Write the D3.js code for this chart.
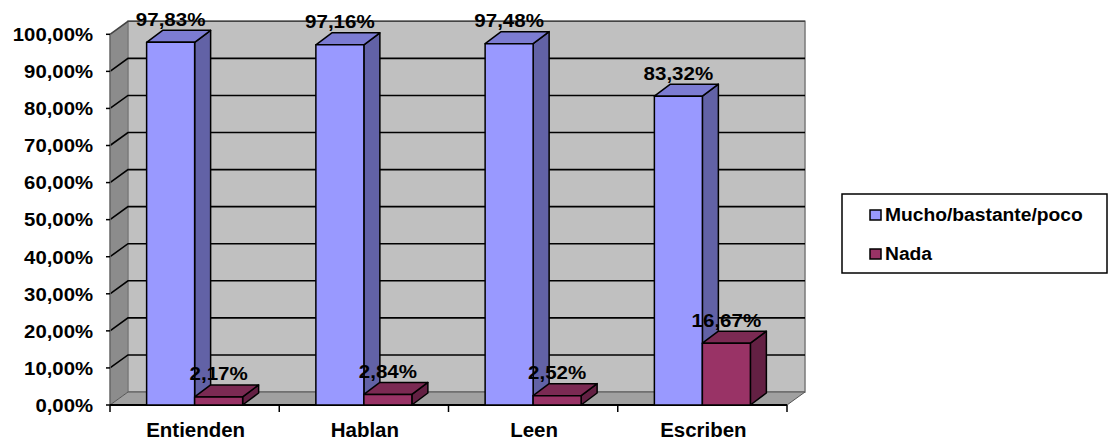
<!DOCTYPE html>
<html>
<head>
<meta charset="utf-8">
<script src="https://cdn.jsdelivr.net/npm/d3@7"></script>
<style>
	body { margin: 0; background: #fff; }
	text { font-family: "Liberation Sans", Arial, sans-serif; font-weight: bold; fill: #000; }
</style>
</head>
<body>
<div id="chart"></div>
<script>
'use strict'

var categories = ["Entienden", "Hablan", "Leen", "Escriben"];
var seriesNames = ["Mucho/bastante/poco", "Nada"];
var mucho = [97.83, 97.16, 97.48, 83.32];
var nada = [2.17, 2.84, 2.52, 16.67];
var yTicks = [0, 10, 20, 30, 40, 50, 60, 70, 80, 90, 100];

var colors = [
	{front: "#9999ff", top: "#7c7cd2", side: "#6262a6"},
	{front: "#993366", top: "#7b2a53", side: "#632043"}
];

var width = 1108, height = 441;
var left = 110, right = 787, floorY = 405;
var wallDx = 18, wallDy = -13;   // profondeur des murs
var barDx = 16, barDy = -12;     // profondeur des barres

var svg = d3.select("#chart")
	.append("svg")
	.attr("width", width)
	.attr("height", height);

var y = d3.scaleLinear().domain([0, 100]).range([floorY, 34.3]);
var x0 = d3.scaleBand().domain(categories).range([left, right]).padding(0);
var x1 = d3.scaleBand().domain([0, 1]).range([0, x0.bandwidth()]).paddingInner(0).paddingOuter(0.763);

function fmt(v){ return v.toFixed(2).replace('.', ',') + '%'; }

// texte legerement etire horizontalement (comme dans Excel)
function stretchText(g, x, yy, txt, size, anchor, sx){
	return g.append("text")
		.attr("transform", "translate(" + x + "," + yy + ") scale(" + sx + ",1)")
		.attr("text-anchor", anchor)
		.style("font-size", size + "px")
		.text(txt);
}

function poly(pts){ return "M" + pts.map(function(p){ return p.join(","); }).join("L") + "Z"; }

var yTop = y(100);

// mur gauche
svg.append("path")
	.attr("d", poly([[left, yTop], [left + wallDx, yTop + wallDy], [left + wallDx, floorY + wallDy], [left, floorY]]))
	.attr("fill", "#8c8c8c");
// mur du fond
svg.append("path")
	.attr("d", poly([[left + wallDx, yTop + wallDy], [right + wallDx, yTop + wallDy], [right + wallDx, floorY + wallDy], [left + wallDx, floorY + wallDy]]))
	.attr("fill", "#c0c0c0")
	.attr("stroke", "#7a7a7a")
	.attr("stroke-width", 1.5);
// sol
svg.append("path")
	.attr("d", poly([[left, floorY], [left + wallDx, floorY + wallDy], [right + wallDx, floorY + wallDy], [right, floorY]]))
	.attr("fill", "#a0a0a0")
	.attr("stroke", "#555")
	.attr("stroke-width", 1);

// grille
var grid = svg.append("g");
yTicks.filter(function(t){ return t > 0; }).forEach(function(t){
	grid.append("path")
		.attr("d", "M" + left + "," + y(t) + "L" + (left + wallDx) + "," + (y(t) + wallDy) + "L" + (right + wallDx) + "," + (y(t) + wallDy))
		.attr("fill", "none")
		.attr("stroke", t == 100 ? "#444" : "#000")
		.attr("stroke-width", 1.6);
});

// axes
svg.append("line")
	.attr("x1", left).attr("x2", left).attr("y1", yTop).attr("y2", floorY)
	.attr("stroke", "#666").attr("stroke-width", 1.5);
svg.append("line")
	.attr("x1", left).attr("x2", right).attr("y1", floorY).attr("y2", floorY)
	.attr("stroke", "#000").attr("stroke-width", 2);

var ticksG = svg.append("g");
yTicks.forEach(function(t){
	ticksG.append("line")
		.attr("x1", left - 4).attr("x2", left).attr("y1", y(t)).attr("y2", y(t))
		.attr("stroke", "#000").attr("stroke-width", 1.5);
	stretchText(ticksG, 93, y(t) + 6.8, fmt(t), 19, "end", 1.07);
});
categories.concat(["_end"]).forEach(function(c, i){
	var xx = left + i * x0.step();
	ticksG.append("line")
		.attr("x1", xx).attr("x2", xx).attr("y1", floorY).attr("y2", floorY + 7)
		.attr("stroke", "#000").attr("stroke-width", 1.5);
});
categories.forEach(function(c){
	stretchText(ticksG, x0(c) + x0.bandwidth() / 2 + 1, 437, c, 19.5, "middle", 1.05);
});

// barres 3D
var series = [mucho, nada];
var bars = svg.append("g");
categories.forEach(function(c, i){
	series.forEach(function(vals, s){
		var v = vals[i];
		var bx = x0(c) + x1(s), bw = x1.bandwidth();
		var by = y(v);
		var col = colors[s];
		var g = bars.append("g")
			.attr("stroke", "#000")
			.attr("stroke-width", 1.5)
			.attr("stroke-linejoin", "round");
		g.append("path")
			.attr("d", poly([[bx + bw, by], [bx + bw + barDx, by + barDy], [bx + bw + barDx, floorY + barDy], [bx + bw, floorY]]))
			.attr("fill", col.side);
		g.append("path")
			.attr("d", poly([[bx, by], [bx + barDx, by + barDy], [bx + bw + barDx, by + barDy], [bx + bw, by]]))
			.attr("fill", col.top);
		g.append("rect")
			.attr("x", bx).attr("y", by)
			.attr("width", bw).attr("height", floorY - by)
			.attr("fill", col.front);
	});
});

// etiquettes
var labels = svg.append("g");
categories.forEach(function(c, i){
	series.forEach(function(vals, s){
		var v = vals[i];
		var cx = x0(c) + x1(s) + x1.bandwidth() / 2;
		stretchText(labels, cx, y(v) + barDy - 4.5, fmt(v), 19, "middle", 1.08);
	});
});

// legende
var leg = svg.append("g");
leg.append("rect")
	.attr("x", 842).attr("y", 194).attr("width", 265).attr("height", 79)
	.attr("fill", "#fff").attr("stroke", "#000").attr("stroke-width", 1.5);
seriesNames.forEach(function(n, i){
	var ly = 221 + i * 39;
	leg.append("rect")
		.attr("x", 870).attr("y", ly - 11).attr("width", 11).attr("height", 10)
		.attr("fill", colors[i].front).attr("stroke", "#000").attr("stroke-width", 1.5);
	stretchText(leg, 885, ly, n, 18, "start", 1.07);
});
</script>
</body>
</html>
